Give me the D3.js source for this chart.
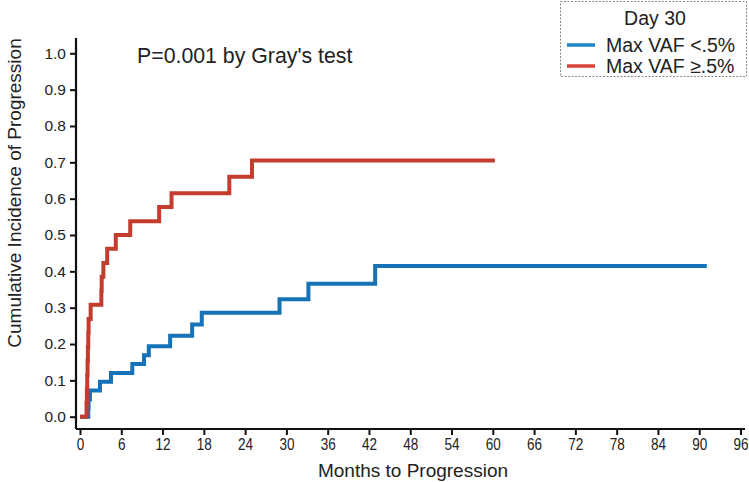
<!DOCTYPE html>
<html>
<head>
<meta charset="utf-8">
<script src="https://cdn.jsdelivr.net/npm/d3@7"></script>
<style>
  html, body { margin: 0; padding: 0; background: #fff; }
  text { font-family: "Liberation Sans", Arial, sans-serif; fill: #222; }
</style>
</head>
<body>
<svg id="chart" width="749" height="482"></svg>
<script>
// Cumulative incidence step curves: [month, cumulative incidence]
const lowVafTimes  = [0, 1.2, 1.25, 1.45, 2.9, 4.5, 7.6, 9.3, 10.0, 13.1, 16.3, 17.7, 29.0, 33.2, 42.9, 91.1];
const lowVafValues = [0, 0.024, 0.048, 0.072, 0.096, 0.120, 0.145, 0.169, 0.194, 0.223, 0.254, 0.286, 0.323, 0.366, 0.415, 0.415];

const highVafTimes  = [0, 0.95, 1.0, 1.05, 1.1, 1.15, 1.2, 1.25, 1.55, 3.1, 3.15, 3.4, 3.95, 5.2, 7.3, 11.5, 13.3, 21.7, 25.0, 60.3];
const highVafValues = [0, 0.038, 0.077, 0.115, 0.154, 0.192, 0.231, 0.269, 0.308, 0.346, 0.385, 0.423, 0.462, 0.5, 0.538, 0.577, 0.615, 0.660, 0.705, 0.705];

const seriesNames  = ["Max VAF <.5%", "Max VAF \u2265.5%"];
const seriesColors = ["#1672b6", "#c43c2e"];
const legendColors = ["#1a86c8", "#d8403a"];

const xTicks = d3.range(0, 97, 6);
const yTicks = d3.range(0, 1.01, 0.1);

const svg = d3.select("#chart");

const x = d3.scaleLinear().domain([0, 96]).range([80, 740.5]);
const y = d3.scaleLinear().domain([0, 1]).range([416.7, 53.3]);

// Axes (offset from the data origin)
const xAxisY = 429, yAxisX = 76;

const xAxis = svg.append("g")
  .attr("transform", `translate(0,${xAxisY})`)
  .call(d3.axisBottom(x).tickValues(xTicks).tickFormat(d3.format("d")).tickSize(6).tickPadding(4));
xAxis.select(".domain").attr("d", `M${yAxisX},0H745`).attr("stroke", "#111").attr("stroke-width", 2.2);
xAxis.selectAll(".tick line").attr("stroke", "#111").attr("stroke-width", 2);
// x tick labels are set in a narrow face: scale the glyphs horizontally
xAxis.selectAll(".tick text")
  .attr("font-size", 16.5).attr("fill", "#222")
  .attr("font-family", "Liberation Sans, Arial, sans-serif")
  .attr("y", 0)
  .attr("dy", 0)
  .attr("transform", "translate(0,21) scale(0.82,1)");

const yAxis = svg.append("g")
  .attr("transform", `translate(${yAxisX},0)`)
  .call(d3.axisLeft(y).tickValues(yTicks).tickFormat(d3.format(".1f")).tickSize(6).tickPadding(4));
yAxis.select(".domain").attr("d", `M0,38V${xAxisY}`).attr("stroke", "#111").attr("stroke-width", 2.2);
yAxis.selectAll(".tick line").attr("stroke", "#111").attr("stroke-width", 2);
yAxis.selectAll(".tick text").attr("font-size", 15.5).attr("fill", "#222")
  .attr("font-family", "Liberation Sans, Arial, sans-serif");

// Axis titles
svg.append("text")
  .attr("x", 413).attr("y", 477)
  .attr("text-anchor", "middle")
  .attr("font-size", 19)
  .text("Months to Progression");

svg.append("text")
  .attr("transform", "translate(21,193) rotate(-90)")
  .attr("text-anchor", "middle")
  .attr("font-size", 19)
  .text("Cumulative Incidence of Progression");

// Step curves
const line = d3.line()
  .x(d => x(d[0]))
  .y(d => y(d[1]))
  .curve(d3.curveStepAfter);

const series = [
  d3.zip(lowVafTimes, lowVafValues),
  d3.zip(highVafTimes, highVafValues)
];

svg.append("g").selectAll("path")
  .data(series)
  .join("path")
  .attr("d", line)
  .attr("fill", "none")
  .attr("stroke", (d, i) => seriesColors[i])
  .attr("stroke-width", 4)
  .attr("stroke-linejoin", "miter")
  .attr("stroke-linecap", "butt");

// Test annotation
svg.append("text")
  .attr("x", 137).attr("y", 63)
  .attr("font-size", 21.3)
  .text("P=0.001 by Gray's test");

// Legend
const legend = svg.append("g");
legend.append("rect")
  .attr("x", 560.5).attr("y", 1.5).attr("width", 186).attr("height", 75)
  .attr("fill", "#fff")
  .attr("stroke", "#888").attr("stroke-width", 1)
  .attr("stroke-dasharray", "2,1.5");
legend.append("text")
  .attr("x", 655).attr("y", 25)
  .attr("text-anchor", "middle")
  .attr("font-size", 19.5)
  .text("Day 30");
seriesNames.forEach((name, i) => {
  const cy = 45 + i * 21;
  legend.append("line")
    .attr("x1", 567).attr("x2", 595).attr("y1", cy).attr("y2", cy)
    .attr("stroke", legendColors[i]).attr("stroke-width", 3.5);
  legend.append("text")
    .attr("x", 606).attr("y", cy + 7)
    .attr("font-size", 19.5)
    .text(name);
});
</script>
</body>
</html>
